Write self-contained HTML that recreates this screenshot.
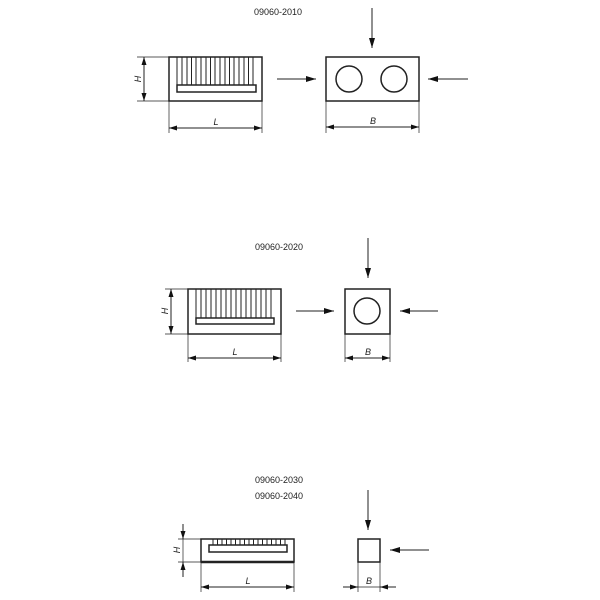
<!DOCTYPE html>
<html><head><meta charset="utf-8"><style>
html,body{margin:0;padding:0;background:#fff;}
svg{display:block}
text{font-family:"Liberation Sans",sans-serif;fill:#222}
</style></head><body>
<svg width="600" height="600" viewBox="0 0 600 600" xmlns="http://www.w3.org/2000/svg">
<defs>
<marker id="a" viewBox="0 0 10 6" refX="10" refY="3" markerWidth="10" markerHeight="6" markerUnits="userSpaceOnUse" orient="auto"><path d="M0,0 L10,3 L0,6 Z" fill="#111"/></marker>
<marker id="s" viewBox="0 0 8 5" refX="8" refY="2.5" markerWidth="8" markerHeight="5" markerUnits="userSpaceOnUse" orient="auto"><path d="M0,0 L8,2.5 L0,5 Z" fill="#111"/></marker>
<marker id="ss" viewBox="0 0 8 5" refX="0" refY="2.5" markerWidth="8" markerHeight="5" markerUnits="userSpaceOnUse" orient="auto"><path d="M8,0 L0,2.5 L8,5 Z" fill="#111"/></marker>
</defs>
<g stroke="#222" fill="none" stroke-width="1">
<!-- Section 1 -->
<rect x="169" y="57" width="93" height="44" stroke-width="1.5"/>
<rect x="177" y="85" width="79" height="7" stroke-width="1.5"/>
<path d="M177,57V85M182,57V85M187,57V85M191.5,57V85M196,57V85M201,57V85M206,57V85M210.5,57V85M215,57V85M220,57V85M225,57V85M229.5,57V85M234,57V85M239,57V85M244,57V85M248.5,57V85M253,57V85"/>
<path d="M137,57H169M137,101H169M169,101V133M262,101V133M326,101V133M419,101V133" stroke-width="0.7"/>
<line x1="144" y1="79" x2="144" y2="57" marker-end="url(#s)"/><line x1="144" y1="79" x2="144" y2="101" marker-end="url(#s)"/>
<line x1="215" y1="128" x2="169" y2="128" marker-end="url(#s)"/><line x1="215" y1="128" x2="262" y2="128" marker-end="url(#s)"/>
<line x1="372" y1="127" x2="326" y2="127" marker-end="url(#s)"/><line x1="372" y1="127" x2="419" y2="127" marker-end="url(#s)"/>
<rect x="326" y="57" width="93" height="44" stroke-width="1.5"/>
<circle cx="349" cy="79" r="13" stroke-width="1.5"/><circle cx="394" cy="79" r="13" stroke-width="1.5"/>
<line x1="277" y1="79" x2="316" y2="79" marker-end="url(#a)"/>
<line x1="468" y1="79" x2="428" y2="79" marker-end="url(#a)"/>
<line x1="372" y1="8" x2="372" y2="48" marker-end="url(#a)"/>
<!-- Section 2 -->
<rect x="188" y="289" width="93" height="45" stroke-width="1.5"/>
<rect x="196" y="318" width="78" height="6" stroke-width="1.5"/>
<path d="M196,289V318M201,289V318M206,289V318M211,289V318M216,289V318M221,289V318M226,289V318M231,289V318M236,289V318M241,289V318M246,289V318M251,289V318M256,289V318M261,289V318M266,289V318M271,289V318"/>
<path d="M165,289H188M165,334H188M188,334V362M281,334V362M345,334V362M390,334V362" stroke-width="0.7"/>
<line x1="171" y1="311" x2="171" y2="289" marker-end="url(#s)"/><line x1="171" y1="311" x2="171" y2="334" marker-end="url(#s)"/>
<line x1="234" y1="358" x2="188" y2="358" marker-end="url(#s)"/><line x1="234" y1="358" x2="281" y2="358" marker-end="url(#s)"/>
<line x1="367" y1="358" x2="345" y2="358" marker-end="url(#s)"/><line x1="367" y1="358" x2="390" y2="358" marker-end="url(#s)"/>
<rect x="345" y="289" width="45" height="45" stroke-width="1.5"/>
<circle cx="367" cy="311" r="13" stroke-width="1.5"/>
<line x1="296" y1="311" x2="334" y2="311" marker-end="url(#a)"/>
<line x1="438" y1="311" x2="400" y2="311" marker-end="url(#a)"/>
<line x1="368" y1="238" x2="368" y2="278" marker-end="url(#a)"/>
<!-- Section 3 -->
<rect x="201" y="539" width="93" height="23" stroke-width="1.5"/>
<line x1="201" y1="562" x2="294" y2="562" stroke-width="2.5"/>
<rect x="209" y="545" width="78" height="7" stroke-width="1.5"/>
<path d="M213,539V545M217.5,539V545M222,539V545M226.5,539V545M231,539V545M235.5,539V545M240,539V545M244.5,539V545M249,539V545M253.5,539V545M258,539V545M262.5,539V545M267,539V545M271.5,539V545M276,539V545M280.5,539V545M285,539V545"/>
<path d="M178,539H201M178,562H201M201,562V592M294,562V592M358,562V592M380,562V592" stroke-width="0.7"/>
<line x1="183" y1="524" x2="183" y2="539" marker-end="url(#s)"/><line x1="183" y1="577" x2="183" y2="562" marker-end="url(#s)"/>
<line x1="183" y1="539" x2="183" y2="562" stroke-width="0.7"/>
<line x1="247" y1="587" x2="201" y2="587" marker-end="url(#s)"/><line x1="247" y1="587" x2="294" y2="587" marker-end="url(#s)"/>
<line x1="343" y1="587" x2="358" y2="587" marker-end="url(#s)"/><line x1="396" y1="587" x2="380" y2="587" marker-end="url(#s)"/>
<line x1="358" y1="587" x2="380" y2="587" stroke-width="0.7"/>
<rect x="358" y="539" width="22" height="23" stroke-width="1.5"/>
<line x1="429" y1="550" x2="390" y2="550" marker-end="url(#a)"/>
<line x1="368" y1="490" x2="368" y2="530" marker-end="url(#a)"/>
</g>
<g font-size="9" text-anchor="middle">
<text x="278" y="15">09060-2010</text>
<text x="279" y="250">09060-2020</text>
<text x="279" y="483">09060-2030</text>
<text x="279" y="499">09060-2040</text>
<text x="216" y="125" font-style="italic">L</text>
<text x="373" y="124" font-style="italic">B</text>
<text x="235" y="355" font-style="italic">L</text>
<text x="368" y="355" font-style="italic">B</text>
<text x="248" y="584" font-style="italic">L</text>
<text x="369" y="584" font-style="italic">B</text>
<text transform="translate(141,79) rotate(-90)" font-style="italic">H</text>
<text transform="translate(168,311) rotate(-90)" font-style="italic">H</text>
<text transform="translate(180,550) rotate(-90)" font-style="italic">H</text>
</g>
</svg>
</body></html>
